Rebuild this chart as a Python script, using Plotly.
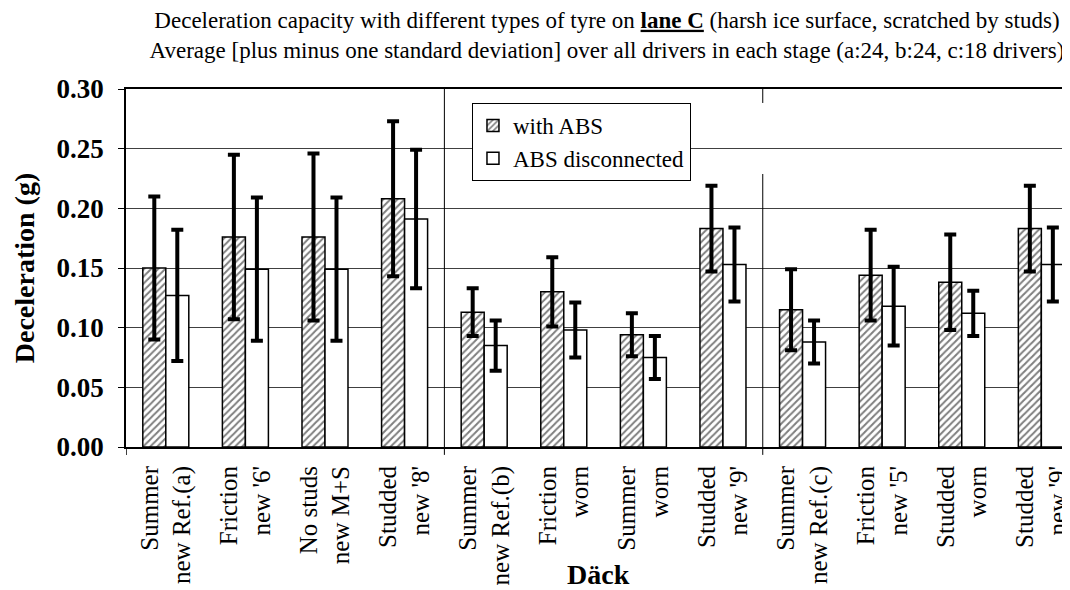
import plotly.graph_objects as go

# ---- data ----
tyres = ["Summer<br>new Ref.(a)", "Friction<br>new '6'", "No studs<br>new M+S", "Studded<br>new '8'",
         "Summer<br>new Ref.(b)", "Friction<br>worn", "Summer<br>worn", "Studded<br>new '9'",
         "Summer<br>new Ref.(c)", "Friction<br>new '5'", "Studded<br>worn", "Studded<br>new '9'"]
group_sizes = [4, 4, 4]
abs_mean = [0.150, 0.176, 0.176, 0.208, 0.113, 0.130, 0.094, 0.183, 0.115, 0.144, 0.138, 0.183]
abs_sd = [0.060, 0.069, 0.070, 0.065, 0.020, 0.029, 0.018, 0.036, 0.034, 0.038, 0.040, 0.036]
noabs_mean = [0.127, 0.149, 0.149, 0.191, 0.085, 0.098, 0.075, 0.153, 0.088, 0.118, 0.112, 0.153]
noabs_sd = [0.055, 0.060, 0.060, 0.058, 0.021, 0.023, 0.018, 0.031, 0.018, 0.033, 0.019, 0.031]
y_ticks = [0.00, 0.05, 0.10, 0.15, 0.20, 0.25, 0.30]

FONT = "Liberation Serif, Times New Roman, serif"
xpos = list(range(len(tyres)))

fig = go.Figure()
fig.add_trace(go.Bar(
    x=xpos, y=abs_mean, name="with ABS",
    marker=dict(color="white", line=dict(color="black", width=1.5),
                pattern=dict(shape="/", fgcolor="black", bgcolor="white", size=5, solidity=0.4)),
    error_y=dict(type="data", array=abs_sd, visible=True, color="black", thickness=4, width=6),
))
fig.add_trace(go.Bar(
    x=xpos, y=noabs_mean, name="ABS disconnected",
    marker=dict(color="white", line=dict(color="black", width=1.5)),
    error_y=dict(type="data", array=noabs_sd, visible=True, color="black", thickness=4, width=6),
))

# group separators at category boundaries
shapes = []
bounds = []
acc = 0
for g in group_sizes[:-1]:
    acc += g
    bounds.append(acc - 0.5)
shapes.append(dict(type="line", xref="x", yref="paper", x0=-0.5, x1=-0.5, y0=-0.022, y1=0,
                   line=dict(color="black", width=1.5)))
shapes.append(dict(type="line", xref="x", yref="paper", x0=bounds[0], x1=bounds[0], y0=-0.022, y1=1,
                   line=dict(color="black", width=1)))
shapes.append(dict(type="line", xref="x", yref="paper", x0=bounds[1], x1=bounds[1], y0=-0.022, y1=0.7626,
                   line=dict(color="black", width=1)))
shapes.append(dict(type="line", xref="x", yref="paper", x0=bounds[1], x1=bounds[1], y0=0.961, y1=1,
                   line=dict(color="black", width=1)))

fig.update_layout(
    width=1062, height=582,
    margin=dict(l=118, r=0, t=81, b=143, autoexpand=False),
    paper_bgcolor="white", plot_bgcolor="white",
    barmode="group", bargap=0.422, bargroupgap=0,
    font=dict(family=FONT, color="black"),
    title=dict(
        text="Deceleration capacity with different types of tyre on <b><u>lane C</u></b> (harsh ice surface, scratched by studs)"
             "<br>Average [plus minus one standard deviation] over all drivers in each stage (a:24, b:24, c:18 drivers)",
        font=dict(family=FONT, size=23, color="black"),
        x=0.564, xref="container", xanchor="center", y=0.966, yref="container", yanchor="top",
    ),
    legend=dict(
        x=0.3665, y=0.961, xanchor="left", yanchor="top",
        bgcolor="white", bordercolor="black", borderwidth=1,
        font=dict(family=FONT, size=23, color="black"),
        itemwidth=30, tracegroupgap=0,
    ),
    xaxis=dict(
        range=[-0.5, 11.36], automargin=False,
        tickmode="array", tickvals=xpos, ticktext=tyres, tickangle=-90,
        tickfont=dict(family=FONT, size=25, color="black"),
        ticks="", ticklabelstandoff=7, ticklabeloverflow="allow",
        showline=True, linecolor="black", linewidth=2, mirror=True,
        showgrid=False, zeroline=False,
    ),
    yaxis=dict(
        range=[0, 0.30], automargin=False,
        tickmode="array", tickvals=y_ticks, tickformat=".2f",
        tickfont=dict(family=FONT, size=27, color="black", weight="bold"),
        ticks="outside", ticklen=6, tickcolor="black", tickwidth=1,
        ticklabelstandoff=9,
        showline=True, linecolor="black", linewidth=1.5,
        showgrid=True, gridcolor="#404040", gridwidth=1, zeroline=False,
        title=dict(text="Deceleration (g)", font=dict(family=FONT, size=28, color="black", weight="bold"),
                   standoff=14),
    ),
    shapes=shapes,
    annotations=[dict(text="<b>Däck</b>", xref="paper", yref="paper", x=0.5, y=-0.3575,
                      xanchor="center", yanchor="middle", showarrow=False,
                      font=dict(family=FONT, size=28, color="black"))],
)

fig.write_html("out.html")
